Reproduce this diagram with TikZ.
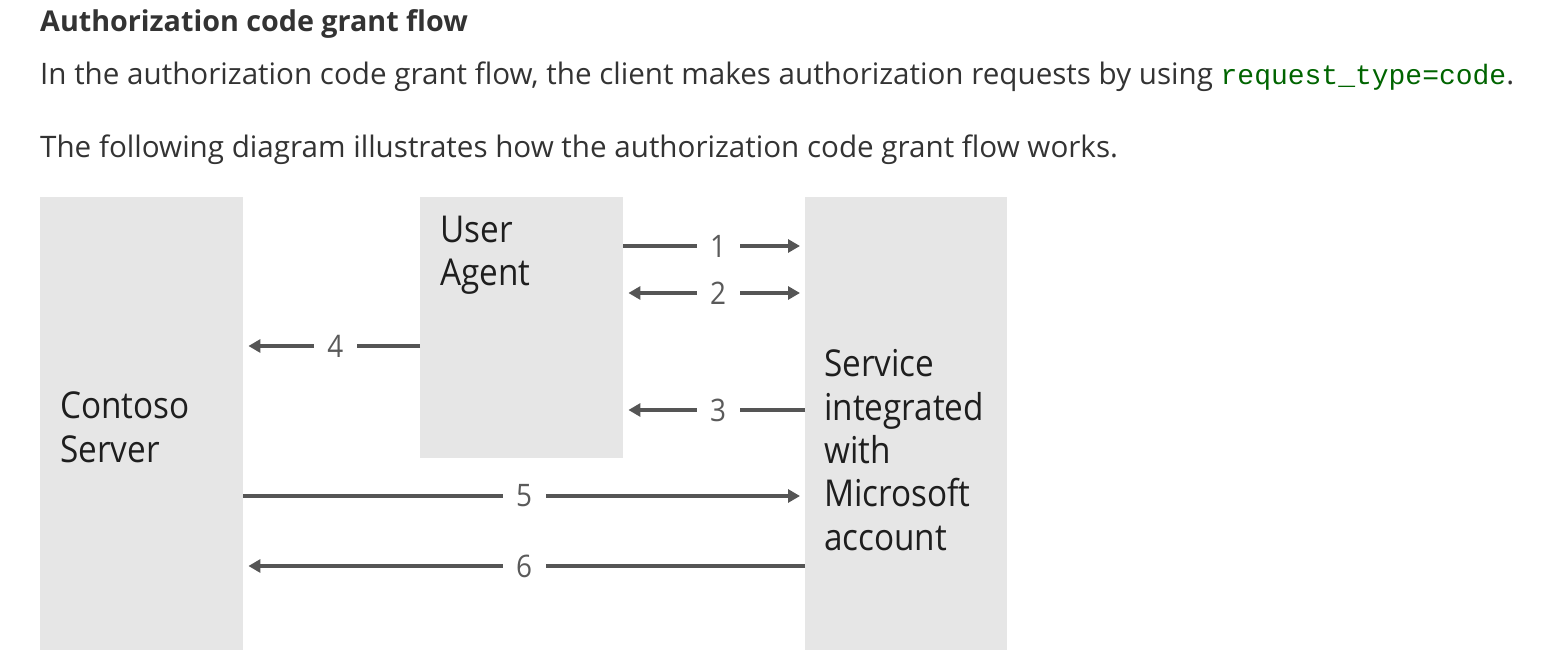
\documentclass[tikz,border=0pt]{standalone}
\usepackage{fontspec}
\setmainfont{Open Sans}
\newfontfamily\diafont{Open Sans}[FakeStretch=0.9]
\newfontfamily\monof{Liberation Mono}
\usetikzlibrary{arrows.meta}
\definecolor{boxgray}{HTML}{E6E6E6}
\definecolor{arrgray}{HTML}{555555}
\definecolor{numgray}{HTML}{5A5A5A}
\definecolor{txtdark}{HTML}{1E1E1E}
\definecolor{headtxt}{HTML}{333333}
\definecolor{codegreen}{HTML}{006400}
\tikzset{
  box/.style={fill=boxgray, draw=none, anchor=north west, inner sep=0pt},
  boxtxt/.style={anchor=base west, inner sep=0pt, align=left, text=txtdark, font=\diafont\fontsize{37}{43.3}\selectfont},
  headline/.style={anchor=base west, inner sep=0pt, text=headtxt},
  arr/.style={draw=arrgray, line width=3.2pt, -{Triangle[length=12pt,width=13pt]}, shorten >=5pt},
  arrtwo/.style={draw=arrgray, line width=3.2pt, {Triangle[length=12pt,width=13pt]}-{Triangle[length=12pt,width=13pt]}, shorten >=5pt, shorten <=5pt},
  lbl/.style={fill=white, inner sep=0pt, minimum width=43pt, minimum height=30pt, text=numgray, font=\diafont\fontsize{31}{31}\selectfont}
}
\begin{document}
\begin{tikzpicture}[x=1pt,y=-1pt]
\path[use as bounding box] (0,0) rectangle (1558,668);
% headings
\node[headline, font=\bfseries\fontsize{28.7}{28.7}\selectfont] (title) at (40,32) {Authorization code grant flow};
\node[headline, font=\fontsize{29.6}{29.6}\selectfont] (intro) at (40,85) {In the authorization code grant flow, the client makes authorization requests by using {\monof\fontsize{28}{28}\selectfont\color{codegreen}request\_type=code}.};
\node[headline, font=\fontsize{29.6}{29.6}\selectfont] (desc) at (40,158) {The following diagram illustrates how the authorization code grant flow works.};
% boxes
\node[box, minimum width=203pt, minimum height=453pt] (cs) at (40,197) {};
\node[box, minimum width=203pt, minimum height=261pt] (ua) at (420,197) {};
\node[box, minimum width=202pt, minimum height=453pt] (svc) at (805,197) {};
% box labels (base anchor = last line)
\node[boxtxt] (cstxt) at (60,462) {Contoso\\Server};
\node[boxtxt] (uatxt) at (440,286) {User\\Agent};
\node[boxtxt] (svctxt) at (824,550) {Service\\integrated\\with\\Microsoft\\account};
% arrows
\draw[arr] ([yshift=-49pt]ua.north east) -- node[lbl,pos=0.522]{1} ([yshift=-49pt]svc.north west);
\draw[arrtwo] ([yshift=-96pt]ua.north east) -- node[lbl,pos=0.522]{2} ([yshift=-96pt]svc.north west);
\draw[arr] ([yshift=-213pt]svc.north west) -- node[lbl,pos=0.478]{3} ([yshift=-213pt]ua.north east);
\draw[arr] ([yshift=-149pt]ua.north west) -- node[lbl,pos=0.48]{4} ([yshift=-149pt]cs.north east);
\draw[arr] ([yshift=-299pt]cs.north east) -- node[lbl,pos=0.5]{5} ([yshift=-299pt]svc.north west);
\draw[arr] ([yshift=-369pt]svc.north west) -- node[lbl,pos=0.5]{6} ([yshift=-369pt]cs.north east);
\end{tikzpicture}
\end{document}
